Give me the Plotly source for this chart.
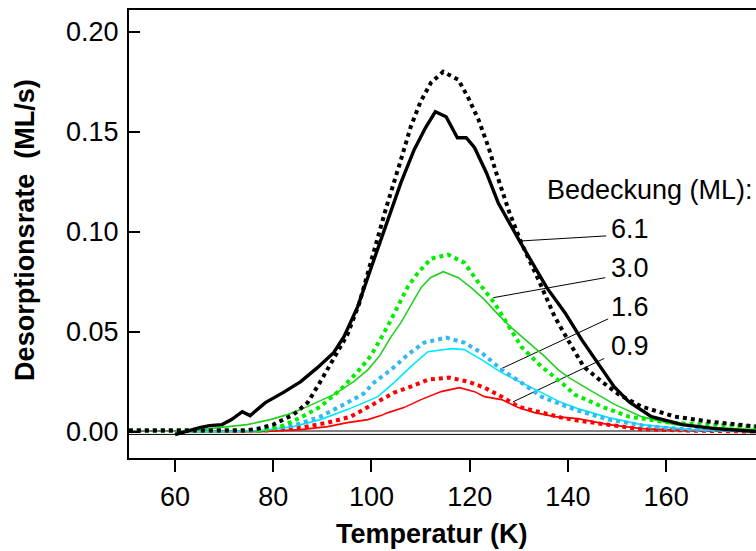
import plotly.graph_objects as go

# ---------------- data ----------------
# Coverage 6.1 ML (black)
t_61_meas = [60, 62, 65, 67, 69.6, 71.5, 73.7, 75.3, 78.4, 82, 85.6, 89, 92.3, 94.4, 97.2, 100.5,
             103.4, 106, 108.7, 111, 113, 115.2, 117.5, 119.3, 121, 123.4, 125.8, 130, 135.7,
             139.4, 142.8, 146.3, 149.4, 152.4, 157, 163.3, 170, 178.5]
r_61_meas = [-0.0015, 0.0, 0.002, 0.003, 0.0035, 0.006, 0.010, 0.008, 0.0145, 0.0195, 0.025, 0.032,
             0.0395, 0.0475, 0.0625, 0.086, 0.106, 0.1245, 0.141, 0.152, 0.160, 0.1575, 0.147,
             0.147, 0.142, 0.1295, 0.1145, 0.096, 0.072, 0.0595, 0.046, 0.0335, 0.0225, 0.015,
             0.0075, 0.0035, 0.0015, 0.0]
t_61_sim = [50.6, 55, 60, 65, 70, 73.9, 77, 80, 84.1, 87, 89.6, 92.3, 95.1, 97.5, 100.5, 103, 106,
            108, 110, 112.1, 114.6, 117.7, 119.7, 121.8, 123.8, 125.4, 128.1, 130.5, 134, 137.3,
            140.8, 143.2, 146.9, 150.4, 155, 161.8, 168.8, 178.5]
r_61_sim = [0.0005, 0.0005, 0.0005, 0.0, 0.0, 0.0005, 0.0015, 0.0035, 0.0085, 0.0145, 0.025, 0.037,
            0.0485, 0.064, 0.090, 0.112, 0.136, 0.1525, 0.165, 0.1745, 0.180, 0.176, 0.167, 0.156,
            0.1425, 0.1295, 0.1095, 0.0945, 0.076, 0.0575, 0.0425, 0.0325, 0.025, 0.0185, 0.0125,
            0.0075, 0.005, 0.0025]

# Coverage 3.0 ML (green)
t_30_meas = [60, 61, 65, 69.2, 74.7, 79.4, 82.9, 85.6, 89, 92.3, 96.4, 99.3, 101.7, 104, 106,
             110.1, 112, 114.6, 117.7, 120.3, 123, 125.8, 128.5, 132, 135.3, 138, 140.2, 145,
             149.6, 155, 161.8, 168.8, 178.5]
r_30_meas = [0.0, 0.0, 0.001, 0.002, 0.0035, 0.006, 0.0085, 0.011, 0.015, 0.0185, 0.025, 0.031,
             0.038, 0.0475, 0.0545, 0.072, 0.077, 0.080, 0.077, 0.072, 0.066, 0.0585, 0.052,
             0.0445, 0.0375, 0.031, 0.027, 0.020, 0.0135, 0.0075, 0.0035, 0.002, 0.001]
t_30_sim = [50.6, 55, 60, 65, 70, 77.4, 81.5, 85.6, 89.6, 93.7, 97.2, 99.9, 102, 104, 107.4, 109.5,
            112.1, 115.6, 118.9, 121.8, 125, 127.9, 130.5, 134.6, 138.7, 141.4, 146.9, 152.4,
            160.6, 168.8, 178.5]
r_30_sim = [0.0005, 0.0005, 0.0005, 0.0, 0.0, 0.0005, 0.0025, 0.007, 0.0125, 0.021, 0.030, 0.038,
            0.047, 0.056, 0.0725, 0.0795, 0.0865, 0.0885, 0.0845, 0.0745, 0.0645, 0.0525, 0.0425,
            0.0325, 0.0245, 0.0185, 0.0125, 0.0075, 0.0045, 0.0035, 0.0025]

# Coverage 1.6 ML (cyan / light blue)
t_16_meas = [60, 70, 77.4, 84.1, 89.6, 95.1, 98.5, 101.3, 104.6, 108, 111.5, 116.2, 118.9, 122.4,
             126.5, 130.5, 134.6, 138.7, 142, 148.3, 155, 165, 178.5]
r_16_meas = [0.0, 0.0, 0.0005, 0.0025, 0.006, 0.011, 0.0145, 0.0175, 0.0245, 0.0325, 0.040,
             0.0415, 0.041, 0.036, 0.0295, 0.0245, 0.0195, 0.0145, 0.0115, 0.007, 0.0035, 0.001,
             0.0]
t_16_sim = [50.6, 55, 60, 65, 70, 77, 84.1, 89.6, 95.1, 98.4, 100.5, 104, 107.4, 110.7, 115.2,
            118.9, 122.4, 126.5, 130.5, 134.6, 138.7, 142, 148.3, 156.5, 165, 178.5]
r_16_sim = [0.0005, 0.0005, 0.0005, 0.0, 0.0, 0.0005, 0.003, 0.0075, 0.0145, 0.019, 0.0245, 0.031,
            0.0385, 0.0445, 0.047, 0.0445, 0.0395, 0.031, 0.0245, 0.0175, 0.0135, 0.0105, 0.006,
            0.0025, 0.001, 0.0005]

# Coverage 0.9 ML (red)
t_09_meas = [60, 70, 77.4, 85.6, 91.1, 95.1, 99.3, 101.9, 103.4, 106.6, 110.1, 114.2, 117.9, 121,
             123, 126.5, 129.9, 133.2, 137.3, 142, 148.3, 155, 165, 178.5]
r_09_meas = [0.0, 0.0, 0.0, 0.001, 0.0025, 0.0045, 0.006, 0.008, 0.0095, 0.012, 0.016, 0.020,
             0.022, 0.020, 0.0175, 0.016, 0.012, 0.0095, 0.0075, 0.0065, 0.0035, 0.0015, 0.0005,
             0.0]
t_09_sim = [50.6, 55, 60, 65, 70, 78, 85.6, 91.1, 95.8, 98.4, 101.3, 104.6, 108, 111.5, 115.8,
            119.7, 123, 126.5, 129.9, 134.6, 138.7, 142, 148.3, 155, 165, 178.5]
r_09_sim = [0.0005, 0.0005, 0.0005, 0.0, 0.0, 0.0005, 0.002, 0.0045, 0.0075, 0.011, 0.0145,
            0.0195, 0.0225, 0.026, 0.027, 0.025, 0.022, 0.0175, 0.0125, 0.0095, 0.007, 0.0055,
            0.0035, 0.0012, 0.0005, 0.0]

# Baselines
baseline_t = [50.6, 178.5]
baseline_levels = [0.0003, -0.0014]

# Coverage labels
legend_title = "Bedeckung (ML):"
coverage_labels = ["6.1", "3.0", "1.6", "0.9"]
label_text_t = 148.3
label_text_y = [0.1014, 0.0817, 0.0621, 0.0429]
legend_title_pos = (135.3, 0.1209)
leader_start_t = [130.6, 124.8, 126.2, 128.8]
leader_start_y = [0.0954, 0.067, 0.0312, 0.01485]
leader_end_t = [147.8, 147.6, 148.2, 147.4]
leader_end_y = [0.0979, 0.077, 0.0564, 0.0366]

# x / y ticks
x_ticks = [60, 80, 100, 120, 140, 160]
y_ticks = [0.0, 0.05, 0.10, 0.15, 0.20]

FONT = "Liberation Sans, Arial, Helvetica, sans-serif"
FS = 27

fig = go.Figure()

for lvl in baseline_levels:
    fig.add_trace(go.Scatter(x=baseline_t, y=[lvl, lvl], mode="lines",
                             line=dict(color="black", width=1), hoverinfo="skip"))

# leader lines
for ts, ys, te, ye in zip(leader_start_t, leader_start_y, leader_end_t, leader_end_y):
    fig.add_trace(go.Scatter(x=[ts, te], y=[ys, ye], mode="lines",
                             line=dict(color="black", width=1), hoverinfo="skip"))

dot = "4px,4px"
series = [
    (t_09_meas, r_09_meas, "#ff0000", 1.6, "solid"),
    (t_09_sim, r_09_sim, "#ff0000", 4, dot),
    (t_16_meas, r_16_meas, "#00e8ff", 1.6, "solid"),
    (t_16_sim, r_16_sim, "#33b8f2", 4, dot),
    (t_30_meas, r_30_meas, "#22d022", 1.6, "solid"),
    (t_30_sim, r_30_sim, "#00ee00", 4, dot),
    (t_61_sim, r_61_sim, "#000000", 4, dot),
    (t_61_meas, r_61_meas, "#000000", 3.4, "solid"),
]
for t, r, c, w, d in series:
    fig.add_trace(go.Scatter(x=t, y=r, mode="lines", line=dict(color=c, width=w, dash=d)))

annotations = []
annotations.append(dict(x=legend_title_pos[0], y=legend_title_pos[1], xref="x", yref="y",
                        text=legend_title, showarrow=False, xanchor="left", yanchor="middle",
                        font=dict(family=FONT, size=FS, color="black")))
for lab, yy in zip(coverage_labels, label_text_y):
    annotations.append(dict(x=label_text_t, y=yy, xref="x", yref="y", text=lab,
                            showarrow=False, xanchor="left", yanchor="middle",
                            font=dict(family=FONT, size=FS, color="black")))
annotations.append(dict(x=0.484, y=-0.17, xref="paper", yref="paper",
                        text="<b>Temperatur (K)</b>", showarrow=False,
                        xanchor="center", yanchor="middle",
                        font=dict(family=FONT, size=FS, color="black")))
annotations.append(dict(x=-0.166, y=0.509, xref="paper", yref="paper",
                        text="<b>Desorptionsrate\u00a0\u00a0(ML/s)</b>", showarrow=False,
                        textangle=-90, xanchor="center", yanchor="middle",
                        font=dict(family=FONT, size=FS, color="black")))

fig.update_layout(
    width=756, height=551,
    margin=dict(l=129, r=0, t=10, b=93),
    paper_bgcolor="white", plot_bgcolor="white",
    showlegend=False,
    annotations=annotations,
    font=dict(family=FONT, size=FS, color="black"),
)
fig.update_xaxes(range=[50.63, 178.3], tickvals=x_ticks, ticks="outside", ticklen=12,
                 tickwidth=2, tickcolor="black", showline=True, linewidth=2, linecolor="black",
                 mirror=True, showgrid=False, zeroline=False, ticklabelstandoff=2,
                 tickfont=dict(family=FONT, size=FS, color="black"))
fig.update_yaxes(range=[-0.0132, 0.2109], tickvals=y_ticks, tickformat=".2f", ticks="inside",
                 ticklen=11, tickwidth=2, tickcolor="black", showline=True, linewidth=2,
                 linecolor="black", showgrid=False, zeroline=False, ticklabelstandoff=3,
                 tickfont=dict(family=FONT, size=FS, color="black"))

fig.write_html("out.html")
